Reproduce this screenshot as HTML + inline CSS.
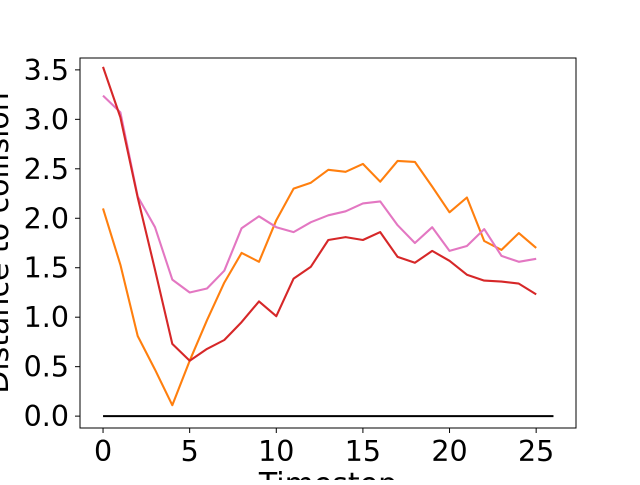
<!DOCTYPE html>
<html><head><meta charset="utf-8"><style>
body{margin:0;background:#fff;}
svg text{font-family:"DejaVu Sans","Liberation Sans",sans-serif;fill:#000;}
</style></head><body>
<svg id="chart" width="640" height="480" xmlns="http://www.w3.org/2000/svg"></svg>
<script>
const timesteps = [0,1,2,3,4,5,6,7,8,9,10,11,12,13,14,15,16,17,18,19,20,21,22,23,24,25];
const redSeries = [3.53,3.02,2.21,1.48,0.73,0.56,0.68,0.77,0.95,1.16,1.01,1.39,1.51,1.78,1.81,1.78,1.86,1.61,1.55,1.67,1.57,1.43,1.37,1.36,1.34,1.23];
const orangeSeries = [2.10,1.53,0.81,0.47,0.11,0.56,0.97,1.35,1.65,1.56,1.98,2.30,2.36,2.49,2.47,2.55,2.37,2.58,2.57,2.32,2.06,2.21,1.77,1.68,1.85,1.70];
const pinkSeries = [3.24,3.07,2.22,1.91,1.38,1.25,1.29,1.47,1.90,2.02,1.91,1.86,1.96,2.03,2.07,2.15,2.17,1.93,1.75,1.91,1.67,1.72,1.89,1.62,1.56,1.59];
const zeroLineX = [0,26];
const xTicks = [0,5,10,15,20,25];
const yTicks = [0.0,0.5,1.0,1.5,2.0,2.5,3.0,3.5];

const svg = document.getElementById('chart');
const NS = 'http://www.w3.org/2000/svg';
const L=80,R=576,T=58,B=428;
const xMin=-1.33,xMax=27.3,yMin=-0.12,yMax=3.62;
const xs = v => L + (v-xMin)/(xMax-xMin)*(R-L);
const ys = v => B - (v-yMin)/(yMax-yMin)*(B-T);
function mk(tag, attrs){const e=document.createElementNS(NS,tag);for(const k in attrs)e.setAttribute(k,attrs[k]);svg.appendChild(e);return e;}

function series(vals, color, name){
  const pts = vals.map((v,i)=>xs(timesteps[i]).toFixed(1)+','+ys(v).toFixed(1)).join(' ');
  const p = mk('polyline',{points:pts,fill:'none',stroke:color,'stroke-width':2.1,'stroke-linejoin':'round'});
  
  
}
series(orangeSeries,'#ff7f0e','orange-series-line');
series(pinkSeries,'#e377c2','pink-series-line');
series(redSeries,'#d62728','red-series-line');
const z = mk('line',{x1:xs(zeroLineX[0]),x2:xs(zeroLineX[1]),y1:ys(0),y2:ys(0),stroke:'#000','stroke-width':2.1});



const frame = mk('rect',{x:L,y:T,width:R-L,height:B-T,fill:'none',stroke:'#000','stroke-width':1});



xTicks.forEach(t=>{
  const x=xs(t);
  const tk = mk('line',{x1:x,x2:x,y1:B,y2:B+5,stroke:'#000','stroke-width':1});
  
  
  const tx = mk('text',{x:x,y:461,'font-size':28.5,'text-anchor':'middle'});
  tx.textContent = t;
  
  
});
yTicks.forEach(t=>{
  const y=ys(t);
  const tk = mk('line',{x1:L-5,x2:L,y1:y,y2:y,stroke:'#000','stroke-width':1});
  
  
  const tx = mk('text',{x:L-11,y:y+10,'font-size':28.5,'text-anchor':'end'});
  tx.textContent = t.toFixed(1);
  
  
});
const xl = mk('text',{x:(L+R)/2,y:494,'font-size':30,'text-anchor':'middle'});
xl.textContent='Timestep';


const yl = mk('text',{x:0,y:0,'font-size':30,'text-anchor':'middle',transform:'translate(8,'+((T+B)/2)+') rotate(-90)'});
yl.textContent='Distance to collision';


</script>
</body></html>
